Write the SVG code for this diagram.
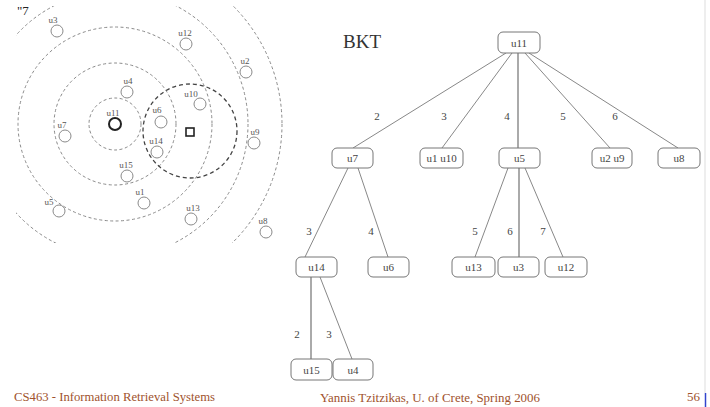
<svg xmlns="http://www.w3.org/2000/svg" width="710" height="407" viewBox="0 0 710 407">
<style>
.ring{fill:none;stroke:#8a8a8a;stroke-width:1;stroke-dasharray:3 2.5}
.pt{fill:none;stroke:#8a8a8a;stroke-width:1}
.pl{font-family:"Liberation Serif",serif;font-size:9px;fill:#555}
.box{fill:#fff;stroke:#777;stroke-width:1}
.bt{font-family:"Liberation Serif",serif;font-size:11px;fill:#444;text-anchor:middle}
.edge{stroke:#888;stroke-width:1;fill:none}
.vedge{stroke:#aaa;stroke-width:2;fill:none}
.el{font-family:"Liberation Serif",serif;font-size:11px;fill:#444;text-anchor:middle}
.ft{font-family:"Liberation Serif",serif;font-size:13px;fill:#a0522d}
</style>
<defs>
<clipPath id="lp"><rect x="16" y="6" width="274" height="237"/></clipPath>
<clipPath id="fc"><rect x="0" y="393" width="710" height="14"/></clipPath>
</defs>
<rect width="710" height="407" fill="#fff"/>
<line x1="705" y1="0" x2="705" y2="393" stroke="#ddd" stroke-width="1"/>
<line x1="705.5" y1="393" x2="705.5" y2="407" stroke="#3344cc" stroke-width="1.5"/>

<g id="space">
<text x="17" y="15" style="font-family:'Liberation Serif',serif;font-size:13px;fill:#222">"7</text>
<g clip-path="url(#lp)">
<circle class="ring" cx="115" cy="124" r="26"/>
<circle class="ring" cx="115" cy="124" r="61"/>
<circle class="ring" cx="115" cy="124" r="97"/>
<circle class="ring" cx="115" cy="124" r="133"/>
<circle class="ring" cx="115" cy="124" r="167"/>
<circle cx="190" cy="131" r="47" fill="none" stroke="#444" stroke-width="1.3" stroke-dasharray="4 3"/>
</g>
<rect x="186" y="128" width="8" height="8" fill="none" stroke="#222" stroke-width="1.6"/>
<circle cx="115" cy="124" r="6" fill="none" stroke="#222" stroke-width="2"/>
<text class="pl" x="113" y="116" text-anchor="middle">u11</text>
<circle class="pt" cx="57" cy="31" r="6"/><text class="pl" x="53" y="23" text-anchor="middle">u3</text>
<circle class="pt" cx="186" cy="44" r="6"/><text class="pl" x="185" y="36" text-anchor="middle">u12</text>
<circle class="pt" cx="246" cy="72" r="6"/><text class="pl" x="245" y="64" text-anchor="middle">u2</text>
<circle class="pt" cx="127" cy="92" r="6"/><text class="pl" x="128" y="84" text-anchor="middle">u4</text>
<circle class="pt" cx="200" cy="104" r="6"/><text class="pl" x="191" y="97" text-anchor="middle">u10</text>
<circle class="pt" cx="161" cy="122" r="6"/><text class="pl" x="157" y="113" text-anchor="middle">u6</text>
<circle class="pt" cx="65" cy="136" r="6"/><text class="pl" x="62" y="128" text-anchor="middle">u7</text>
<circle class="pt" cx="254" cy="143" r="6"/><text class="pl" x="255" y="135" text-anchor="middle">u9</text>
<circle class="pt" cx="157" cy="152" r="6"/><text class="pl" x="156" y="144" text-anchor="middle">u14</text>
<circle class="pt" cx="127" cy="176" r="6"/><text class="pl" x="126" y="168" text-anchor="middle">u15</text>
<circle class="pt" cx="144" cy="203" r="6"/><text class="pl" x="140" y="195" text-anchor="middle">u1</text>
<circle class="pt" cx="59" cy="211" r="6"/><text class="pl" x="49" y="205" text-anchor="middle">u5</text>
<circle class="pt" cx="191" cy="219" r="6"/><text class="pl" x="193" y="211" text-anchor="middle">u13</text>
<circle class="pt" cx="266" cy="232" r="6"/><text class="pl" x="263" y="224" text-anchor="middle">u8</text>
</g>

<text x="343" y="48" style="font-family:'Liberation Serif',serif;font-size:19px;fill:#333">BKT</text>

<g id="connectors">
<line class="edge" x1="506" y1="53" x2="353" y2="148"/>
<line class="edge" x1="512" y1="53" x2="442" y2="148"/>
<line class="vedge" x1="518" y1="53" x2="518" y2="148"/>
<line class="edge" x1="525" y1="53" x2="610" y2="148"/>
<line class="edge" x1="529" y1="53" x2="678" y2="148"/>
<line class="edge" x1="348" y1="168" x2="305" y2="257"/>
<line class="edge" x1="358" y1="168" x2="388" y2="257"/>
<line class="edge" x1="508" y1="168" x2="475" y2="257"/>
<line class="vedge" x1="519" y1="168" x2="519" y2="257"/>
<line class="edge" x1="525" y1="168" x2="563" y2="257"/>
<line class="vedge" x1="311" y1="277" x2="311" y2="359"/>
<line class="edge" x1="320" y1="277" x2="352" y2="359"/>
<text class="el" x="377" y="120">2</text>
<text class="el" x="444" y="120">3</text>
<text class="el" x="507" y="120">4</text>
<text class="el" x="563" y="120">5</text>
<text class="el" x="615" y="120">6</text>
<text class="el" x="309" y="235">3</text>
<text class="el" x="371" y="235">4</text>
<text class="el" x="475" y="235">5</text>
<text class="el" x="510" y="235">6</text>
<text class="el" x="543" y="235">7</text>
<text class="el" x="297" y="338">2</text>
<text class="el" x="329" y="338">3</text>
</g>

<g id="n-u11"><rect class="box" x="498" y="32" width="42" height="21" rx="5"/><text class="bt" x="519" y="46.5">u11</text></g>
<g id="n-u7"><rect class="box" x="332" y="148" width="41" height="20" rx="5"/><text class="bt" x="352.5" y="162">u7</text></g>
<g id="n-u1u10"><rect class="box" x="420" y="148" width="43" height="20" rx="5"/><text class="bt" x="441.5" y="162">u1 u10</text></g>
<g id="n-u5"><rect class="box" x="499" y="148" width="41" height="20" rx="5"/><text class="bt" x="519.5" y="162">u5</text></g>
<g id="n-u2u9"><rect class="box" x="592" y="148" width="40" height="20" rx="5"/><text class="bt" x="612" y="162">u2 u9</text></g>
<g id="n-u8"><rect class="box" x="658" y="148" width="42" height="20" rx="5"/><text class="bt" x="679" y="162">u8</text></g>
<g id="n-u14"><rect class="box" x="296" y="257" width="41" height="20" rx="5"/><text class="bt" x="316.5" y="271">u14</text></g>
<g id="n-u6"><rect class="box" x="368" y="257" width="41" height="20" rx="5"/><text class="bt" x="388.5" y="271">u6</text></g>
<g id="n-u13"><rect class="box" x="452" y="257" width="43" height="20" rx="5"/><text class="bt" x="473.5" y="271">u13</text></g>
<g id="n-u3"><rect class="box" x="498" y="257" width="41" height="20" rx="5"/><text class="bt" x="518.5" y="271">u3</text></g>
<g id="n-u12"><rect class="box" x="545" y="257" width="42" height="20" rx="5"/><text class="bt" x="566" y="271">u12</text></g>
<g id="n-u15"><rect class="box" x="291" y="359" width="41" height="21" rx="5"/><text class="bt" x="311.5" y="373.5">u15</text></g>
<g id="n-u4"><rect class="box" x="333" y="359" width="40" height="21" rx="5"/><text class="bt" x="353" y="373.5">u4</text></g>

<g id="footer">
<text class="ft" x="14" y="401" textLength="201" lengthAdjust="spacingAndGlyphs">CS463 - Information Retrieval Systems</text>
<g clip-path="url(#fc)">
<text class="ft" x="320" y="402" textLength="220" lengthAdjust="spacingAndGlyphs">Yannis Tzitzikas, U. of Crete, Spring  2006</text>
<text class="ft" x="687" y="401">56</text>
</g>
</g>
</svg>
